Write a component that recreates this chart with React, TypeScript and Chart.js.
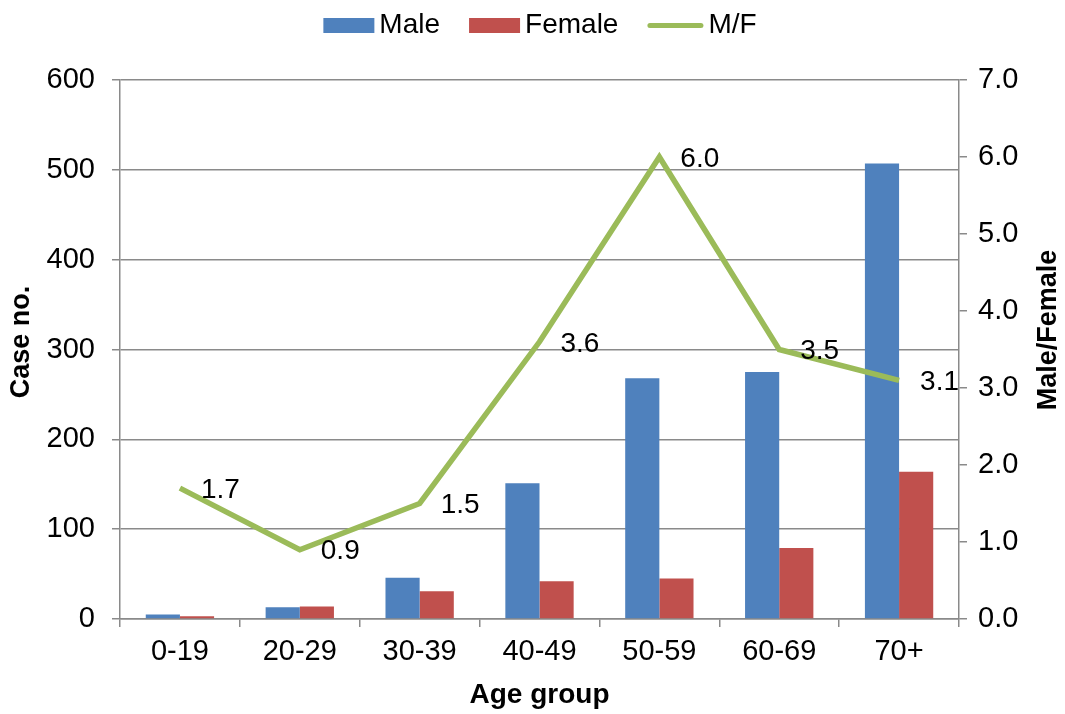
import { useEffect, useRef } from 'react';
import { Chart, registerables } from 'chart.js';

Chart.register(...registerables);

// Case counts per age group and the male/female ratio
const ageGroups = ['0-19', '20-29', '30-39', '40-49', '50-59', '60-69', '70+'];
const maleCases = [5, 13, 46, 151, 268, 275, 507];
const femaleCases = [3, 14, 31, 42, 45, 79, 164];
const maleFemaleRatio = [1.7, 0.9, 1.5, 3.6, 6.0, 3.5, 3.1];

const caseTicks = [0, 100, 200, 300, 400, 500, 600];
const ratioTicks = [0, 1, 2, 3, 4, 5, 6, 7];

const FONT = '"Liberation Sans", Arial, Helvetica, sans-serif';
const BLUE = '#4F81BD';
const RED = '#C0504D';
const GREEN = '#9BBB59';
const GRID = '#8A8A8A';

const W = 1065;
const H = 714;

// Draws the legend row, the two vertical axis titles and the ratio value labels
const decorations = {
  id: 'decorations',
  afterDatasetsDraw(chart: any) {
    const ctx = chart.ctx as CanvasRenderingContext2D;
    const meta = chart.getDatasetMeta(2);
    ctx.save();
    ctx.font = `28px ${FONT}`;
    ctx.fillStyle = '#000';
    ctx.textAlign = 'left';
    ctx.textBaseline = 'middle';
    meta.data.forEach((pt: any, i: number) => {
      ctx.fillText(maleFemaleRatio[i].toFixed(1), pt.x + 21, pt.y + 2);
    });
    ctx.restore();
  },
  afterDraw(chart: any) {
    const ctx = chart.ctx as CanvasRenderingContext2D;
    ctx.save();

    // legend
    ctx.font = `28px ${FONT}`;
    ctx.textBaseline = 'middle';
    ctx.textAlign = 'left';
    const items = chart.data.datasets.map((ds: any) => ({
      label: ds.label as string,
      color: (ds.type === 'line' ? ds.borderColor : ds.backgroundColor) as string,
      isLine: ds.type === 'line',
    }));
    const boxW = 51;
    const lineW = 56;
    const gap = 5;
    const itemGap = 29;
    const widths = items.map((it: any) => (it.isLine ? lineW : boxW) + gap + ctx.measureText(it.label).width);
    const total = widths.reduce((a: number, b: number) => a + b, 0) + itemGap * (items.length - 1);
    let x = 540 - total / 2;
    const cy = 25.5;
    items.forEach((it: any, i: number) => {
      if (it.isLine) {
        ctx.strokeStyle = it.color;
        ctx.lineWidth = 5;
        ctx.lineCap = 'round';
        ctx.beginPath();
        ctx.moveTo(x + 2.5, cy);
        ctx.lineTo(x + lineW - 2.5, cy);
        ctx.stroke();
        ctx.fillStyle = '#000';
        ctx.fillText(it.label, x + lineW + gap, cy);
      } else {
        ctx.fillStyle = it.color;
        ctx.fillRect(x, cy - 7.5, boxW, 15);
        ctx.fillStyle = '#000';
        ctx.fillText(it.label, x + boxW + gap, cy);
      }
      x += widths[i] + itemGap;
    });

    // vertical axis titles, both reading bottom to top
    ctx.font = `bold 27px ${FONT}`;
    ctx.textAlign = 'center';
    ctx.fillStyle = '#000';
    ctx.translate(22, 342);
    ctx.rotate(-Math.PI / 2);
    ctx.fillText('Case no.', 0, 0);
    ctx.setTransform(1, 0, 0, 1, 0, 0);
    ctx.translate(1049, 330);
    ctx.rotate(-Math.PI / 2);
    ctx.fillText('Male/Female', 0, 0);
    ctx.restore();
  },
};

export default function App() {
  const canvasRef = useRef<HTMLCanvasElement | null>(null);

  useEffect(() => {
    const canvas = canvasRef.current;
    if (!canvas) return;
    const tickFont = { family: FONT, size: 29 };

    const chart = new Chart(canvas, {
      type: 'bar',
      data: {
        labels: ageGroups,
        datasets: [
          {
            type: 'bar',
            label: 'Male',
            data: maleCases,
            backgroundColor: BLUE,
            yAxisID: 'y',
            barPercentage: 1,
            categoryPercentage: 0.57,
            order: 1,
          },
          {
            type: 'bar',
            label: 'Female',
            data: femaleCases,
            backgroundColor: RED,
            yAxisID: 'y',
            barPercentage: 1,
            categoryPercentage: 0.57,
            order: 1,
          },
          {
            type: 'line',
            label: 'M/F',
            data: maleFemaleRatio,
            borderColor: GREEN,
            backgroundColor: GREEN,
            borderWidth: 5.5,
            pointRadius: 0,
            tension: 0,
            fill: false,
            yAxisID: 'y1',
            order: 0,
          } as any,
        ],
      },
      options: {
        responsive: false,
        animation: false,
        devicePixelRatio: 1,
        layout: { padding: { top: 80, left: 0, right: 0, bottom: 0 } },
        plugins: {
          legend: { display: false },
          tooltip: { enabled: false },
        },
        scales: {
          x: {
            offset: true,
            grid: {
              display: true,
              drawOnChartArea: false,
              drawTicks: true,
              tickLength: 8,
              offset: true,
              color: GRID,
              lineWidth: 1.5,
            },
            border: { color: GRID, width: 1.5 },
            ticks: { color: '#000', font: tickFont, padding: 8, maxRotation: 0 },
            title: {
              display: true,
              text: 'Age group',
              color: '#000',
              font: { family: FONT, size: 28, weight: 'bold' },
              padding: { top: 0, bottom: 2 },
            },
            afterFit: (s: any) => {
              s.height = 95;
            },
          },
          y: {
            position: 'left',
            min: 0,
            max: 600,
            afterBuildTicks: (s: any) => {
              s.ticks = caseTicks.map((v) => ({ value: v }));
            },
            ticks: { color: '#000', font: tickFont, padding: 17 },
            grid: { color: GRID, lineWidth: 1.5, tickLength: 8 },
            border: { color: GRID, width: 1.5 },
            afterFit: (s: any) => {
              s.width = 120;
            },
          },
          y1: {
            position: 'right',
            min: 0,
            max: 7,
            afterBuildTicks: (s: any) => {
              s.ticks = ratioTicks.map((v) => ({ value: v }));
            },
            ticks: {
              color: '#000',
              font: tickFont,
              padding: 11,
              callback: (v: any) => Number(v).toFixed(1),
            },
            grid: { drawOnChartArea: false, color: GRID, lineWidth: 1.5, tickLength: 8 },
            border: { color: GRID, width: 1.5 },
            afterFit: (s: any) => {
              s.width = W - 959;
            },
          },
        },
      } as any,
      plugins: [decorations],
    });

    return () => chart.destroy();
  }, []);

  return (
    <div style={{ position: 'absolute', left: 0, top: 0, width: W, height: H, background: '#fff' }}>
      <canvas ref={canvasRef} width={W} height={H} style={{ display: 'block' }} />
    </div>
  );
}
